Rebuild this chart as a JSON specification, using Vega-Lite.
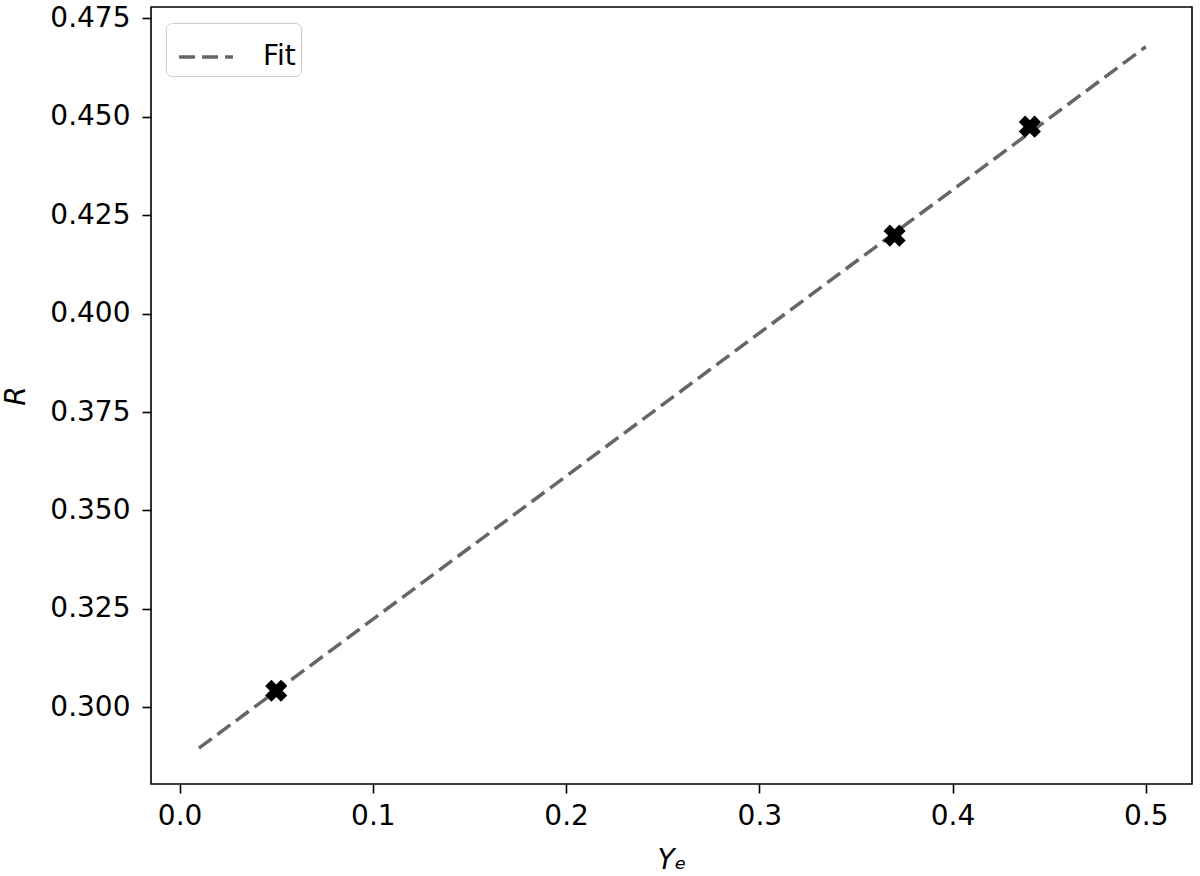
{
  "$schema": "https://vega.github.io/schema/vega-lite/v6.json",
  "width": 1041,
  "height": 777,
  "autosize": {"type": "none"},
  "padding": {"left": 151, "top": 7, "right": 8, "bottom": 92},
  "background": "white",
  "config": {
    "font": "DejaVu Sans",
    "view": {"stroke": "#000000", "strokeWidth": 1.6},
    "axis": {
      "grid": false,
      "domain": false,
      "labelFont": "DejaVu Sans",
      "labelFontSize": 28,
      "labelColor": "#000000",
      "tickColor": "#000000",
      "tickWidth": 1.6,
      "tickSize": 9,
      "titleFont": "DejaVu Sans",
      "titleFontSize": 28,
      "titleFontStyle": "italic",
      "titleFontWeight": "normal",
      "titleColor": "#000000"
    }
  },
  "datasets": {
    "fit": [
      {"Ye": 0.01, "R": 0.2896},
      {"Ye": 0.5, "R": 0.4678}
    ],
    "obs": [
      {"Ye": 0.05, "R": 0.3042},
      {"Ye": 0.37, "R": 0.4198},
      {"Ye": 0.44, "R": 0.4475}
    ]
  },
  "layer": [
    {
      "data": {"name": "fit"},
      "mark": {"type": "line", "strokeWidth": 3.5, "strokeDash": [16, 7], "clip": true},
      "encoding": {
        "x": {
          "field": "Ye", "type": "quantitative",
          "scale": {"domain": [-0.0148, 0.5239], "nice": false, "zero": false},
          "axis": {"title": "Yₑ", "values": [0, 0.1, 0.2, 0.3, 0.4, 0.5], "format": ".1f", "labelPadding": 9, "titlePadding": 16}
        },
        "y": {
          "field": "R", "type": "quantitative",
          "scale": {"domain": [0.2805, 0.4779], "nice": false, "zero": false},
          "axis": {"title": "R", "values": [0.3, 0.325, 0.35, 0.375, 0.4, 0.425, 0.45, 0.475], "format": ".3f", "labelPadding": 12, "titlePadding": 19}
        },
        "color": {
          "datum": "Fit",
          "scale": {"range": ["#666666"]},
          "legend": {
            "title": null,
            "orient": "none",
            "legendX": 15,
            "legendY": 16,
            "symbolType": "stroke",
            "symbolSize": 2900,
            "symbolStrokeWidth": 3.5,
            "symbolDash": [16, 7],
            "symbolOffset": 6,
            "labelFont": "DejaVu Sans",
            "labelFontSize": 28,
            "labelColor": "#000000",
            "labelOffset": 28,
            "padding": 5,
            "cornerRadius": 6,
            "strokeColor": "#cccccc",
            "fillColor": "#ffffff"
          }
        }
      }
    },
    {
      "data": {"name": "obs"},
      "mark": {"type": "point", "shape": "cross", "angle": 45, "filled": true, "color": "#000000", "opacity": 1, "size": 500},
      "encoding": {
        "x": {"field": "Ye", "type": "quantitative"},
        "y": {"field": "R", "type": "quantitative"}
      }
    }
  ]
}
